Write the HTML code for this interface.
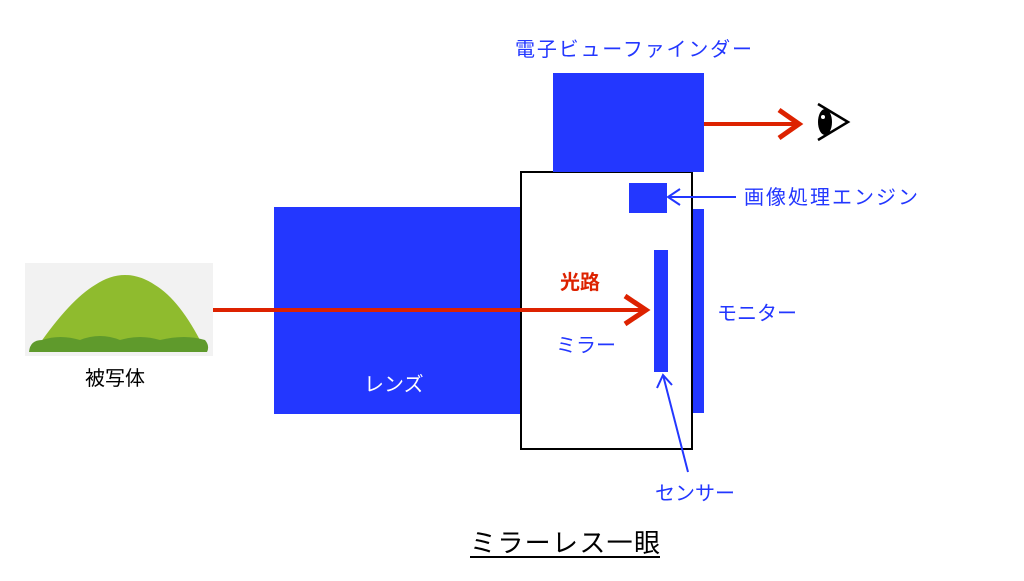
<!DOCTYPE html>
<html><head><meta charset="utf-8"><style>
body{margin:0;width:1024px;height:581px;background:#fff;overflow:hidden;font-family:"Liberation Sans","Noto Sans CJK JP",sans-serif}
</style></head><body>
<svg width="1024" height="581" xmlns="http://www.w3.org/2000/svg" style="position:absolute;left:0;top:0">
<g font-family="Liberation Sans, Noto Sans CJK JP, sans-serif">
<rect x="25" y="263" width="188" height="93" fill="#f2f2f2"/>
<path d="M38 346 Q70 300 95 285 Q125 265 155 285 Q180 300 203 346 Z" fill="#8fbb2e"/>
<path d="M29 352 Q30 340 42 340 Q60 334 80 340 Q100 332 120 340 Q140 334 160 340 Q185 334 205 340 Q210 346 207 352 Z" fill="#5f9a2c"/>
<rect x="274" y="207" width="247" height="207" fill="#2337ff"/>
<rect x="521" y="172" width="171" height="277" fill="#fff" stroke="#000" stroke-width="2"/>
<rect x="553" y="73" width="151" height="99" fill="#2337ff"/>
<rect x="629" y="183" width="38" height="30" fill="#2337ff"/>
<rect x="654" y="250" width="14" height="122" fill="#2337ff"/>
<rect x="693" y="209" width="11" height="204" fill="#2337ff"/>
<line x1="213" y1="310" x2="645" y2="310" stroke="#dd2200" stroke-width="4"/>
<polyline points="625,296 646,310 625,324" fill="none" stroke="#dd2200" stroke-width="5"/>
<line x1="704" y1="124" x2="797" y2="124" stroke="#dd2200" stroke-width="4"/>
<polyline points="779,110 799,124 779,138" fill="none" stroke="#dd2200" stroke-width="5"/>
<path d="M818 104 L848 122 L818 140" fill="none" stroke="#000" stroke-width="2.5"/>
<ellipse cx="825" cy="122" rx="7" ry="13" fill="#000"/>
<circle cx="823" cy="117" r="2" fill="#fff"/>
<line x1="668" y1="197" x2="736" y2="197" stroke="#2337ff" stroke-width="2"/>
<polyline points="680,189 668,197 680,205" fill="none" stroke="#2337ff" stroke-width="2"/>
<line x1="663" y1="375" x2="688" y2="472" stroke="#2337ff" stroke-width="2"/>
<polyline points="657,388 663,375 672,385" fill="none" stroke="#2337ff" stroke-width="2"/>
<text x="515" y="56" font-size="20" fill="#2337ff" textLength="237">電子ビューファインダー</text>
<text x="744" y="204" font-size="20" fill="#2337ff" textLength="174">画像処理エンジン</text>
<text x="560" y="289" font-size="20" fill="#dd2200" font-weight="bold">光路</text>
<text x="556" y="352" font-size="20" fill="#2337ff">ミラー</text>
<text x="717" y="320" font-size="20" fill="#2337ff">モニター</text>
<text x="364" y="391" font-size="20" fill="#fff">レンズ</text>
<text x="655" y="500" font-size="20" fill="#2337ff">センサー</text>
<text x="85" y="385" font-size="20" fill="#000">被写体</text>
<text x="470" y="552" font-size="26" fill="#000" textLength="190">ミラーレス一眼</text>
<line x1="470" y1="557" x2="660" y2="557" stroke="#000" stroke-width="2"/>
</g></svg>
</body></html>
